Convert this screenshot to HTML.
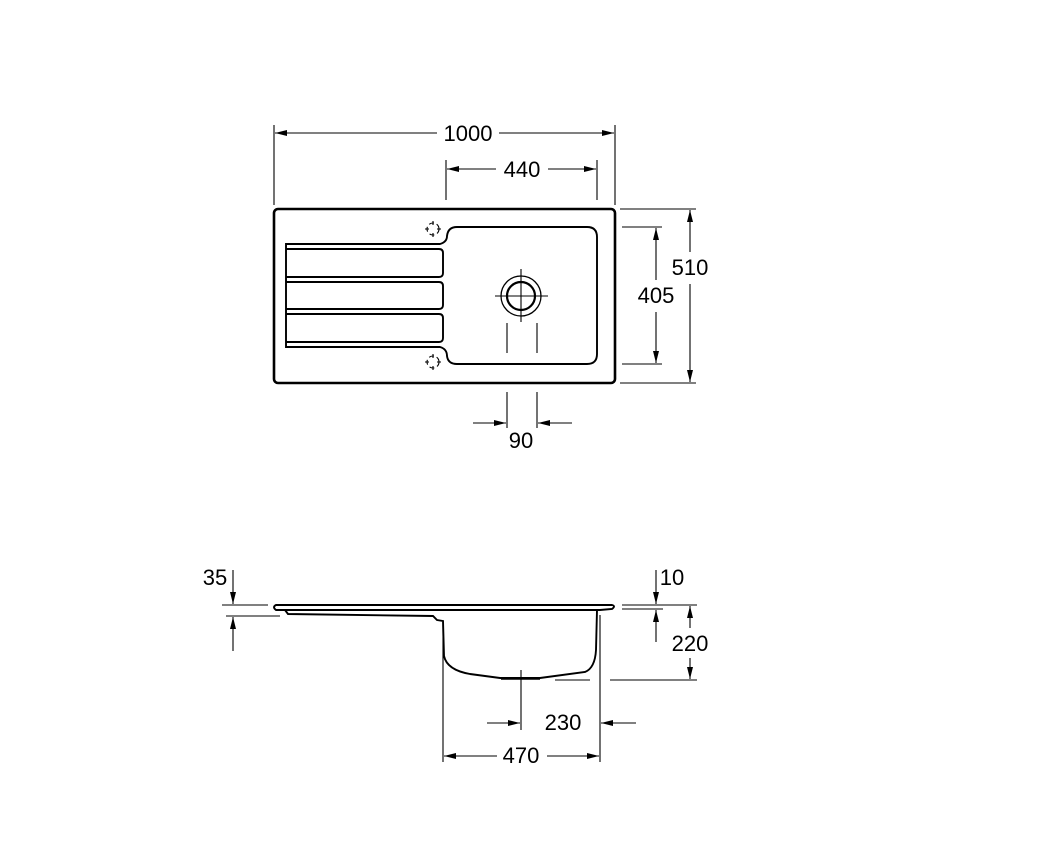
<!DOCTYPE html>
<html><head><style>html,body{margin:0;padding:0;background:#fff}svg{display:block}text{font-family:"Liberation Sans",sans-serif;font-size:22px;fill:#000}</style></head><body>
<svg width="1061" height="854" viewBox="0 0 1061 854" xmlns="http://www.w3.org/2000/svg">
<defs><marker id="a" viewBox="0 0 12 6" refX="12" refY="3" markerWidth="12" markerHeight="6" markerUnits="userSpaceOnUse" orient="auto-start-reverse"><path d="M0,0L12,3L0,6z" fill="#000"/></marker></defs>
<g stroke="#000" fill="none" stroke-width="1.1">
<line x1="274" y1="125" x2="274" y2="205"/><line x1="615" y1="125" x2="615" y2="205"/>
<line x1="275" y1="133" x2="437" y2="133" marker-start="url(#a)"/><line x1="499" y1="133" x2="614" y2="133" marker-end="url(#a)"/>
<line x1="446" y1="160" x2="446" y2="200"/><line x1="597" y1="160" x2="597" y2="200"/>
<line x1="447" y1="169" x2="496" y2="169" marker-start="url(#a)"/><line x1="548" y1="169" x2="596" y2="169" marker-end="url(#a)"/>
<line x1="620" y1="209" x2="696" y2="209"/><line x1="620" y1="383" x2="696" y2="383"/>
<line x1="690" y1="210" x2="690" y2="252" marker-start="url(#a)"/><line x1="690" y1="284" x2="690" y2="382" marker-end="url(#a)"/>
<line x1="622" y1="227" x2="662" y2="227"/><line x1="622" y1="364" x2="662" y2="364"/>
<line x1="656" y1="228" x2="656" y2="280" marker-start="url(#a)"/><line x1="656" y1="312" x2="656" y2="363" marker-end="url(#a)"/>
<line x1="507" y1="392" x2="507" y2="428"/><line x1="537" y1="392" x2="537" y2="428"/>
<line x1="473" y1="423" x2="506" y2="423" marker-end="url(#a)"/><line x1="572" y1="423" x2="538" y2="423" marker-end="url(#a)"/>
<rect x="274" y="209" width="341" height="174" rx="4" stroke-width="2.6"/>
<path d="M286,244 L440,244 Q447,242 447,236 Q448,227 457,227 L587,227 Q597,227 597,237 L597,354 Q597,364 587,364 L457,364 Q448,364 447,356 Q447,349 440,347 L286,347 Z" stroke-width="1.9"/>
<path d="M286,249 L439,249 Q443,249 443,253 L443,273 Q443,277 439,277 L286,277" stroke-width="1.9"/>
<path d="M286,282 L439,282 Q443,282 443,286 L443,305 Q443,309 439,309 L286,309" stroke-width="1.9"/>
<path d="M286,314 L439,314 Q443,314 443,318 L443,338 Q443,342 439,342 L286,342" stroke-width="1.9"/>
<circle cx="521" cy="296" r="14" stroke-width="2.2"/><circle cx="521" cy="296" r="20" stroke-width="1.3"/>
<line x1="495" y1="296" x2="548" y2="296"/><line x1="521" y1="269" x2="521" y2="322"/>
<line x1="507" y1="323" x2="507" y2="353"/><line x1="537" y1="323" x2="537" y2="353"/>
<g stroke-dasharray="5,3"><circle cx="433" cy="229" r="6"/><circle cx="433" cy="362" r="6"/></g>
<path d="M433,221v4M433,233v4M425,229h4M437,229h4M433,354v4M433,366v4M425,362h4M437,362h4"/>
<path d="M276,605 L612,605 Q616,606 612,609 L600,610 L276,610 Q272,607 276,605Z" stroke-width="1.9"/>
<path d="M285,610 L288,614 L433,616 L437,620 L443,621 L444,656 Q447,670 470,674 L500,678 L540,678 L585,672 Q595,668 596,650 L597,610" stroke-width="1.9"/>
<line x1="501" y1="679" x2="540" y2="679" stroke-width="1.5"/>
<line x1="443" y1="625" x2="443" y2="762"/><line x1="600" y1="615" x2="600" y2="762"/>
<line x1="521" y1="670" x2="521" y2="730"/>
<line x1="487" y1="723" x2="520" y2="723" marker-end="url(#a)"/><line x1="636" y1="723" x2="601" y2="723" marker-end="url(#a)"/>
<line x1="444" y1="756" x2="497" y2="756" marker-start="url(#a)"/><line x1="547" y1="756" x2="599" y2="756" marker-end="url(#a)"/>
<line x1="222" y1="605" x2="268" y2="605"/><line x1="226" y1="616" x2="280" y2="616"/>
<line x1="233" y1="570" x2="233" y2="604" marker-end="url(#a)"/><line x1="233" y1="651" x2="233" y2="617" marker-end="url(#a)"/>
<line x1="622" y1="605" x2="697" y2="605"/><line x1="622" y1="609" x2="663" y2="609"/>
<line x1="656" y1="570" x2="656" y2="604" marker-end="url(#a)"/><line x1="656" y1="642" x2="656" y2="610" marker-end="url(#a)"/>
<line x1="610" y1="680" x2="697" y2="680"/>
<line x1="690" y1="606" x2="690" y2="628" marker-start="url(#a)"/><line x1="690" y1="658" x2="690" y2="679" marker-end="url(#a)"/>
<line x1="555" y1="680" x2="590" y2="680"/>
</g>
<g text-anchor="middle">
<text x="468" y="141">1000</text><text x="522" y="177">440</text>
<text x="690" y="275">510</text><text x="656" y="303">405</text>
<text x="521" y="448">90</text>
<text x="563" y="730">230</text><text x="521" y="763">470</text>
<text x="690" y="651">220</text>
<text x="215" y="585">35</text><text x="672" y="585">10</text>
</g>
</svg>
</body></html>
